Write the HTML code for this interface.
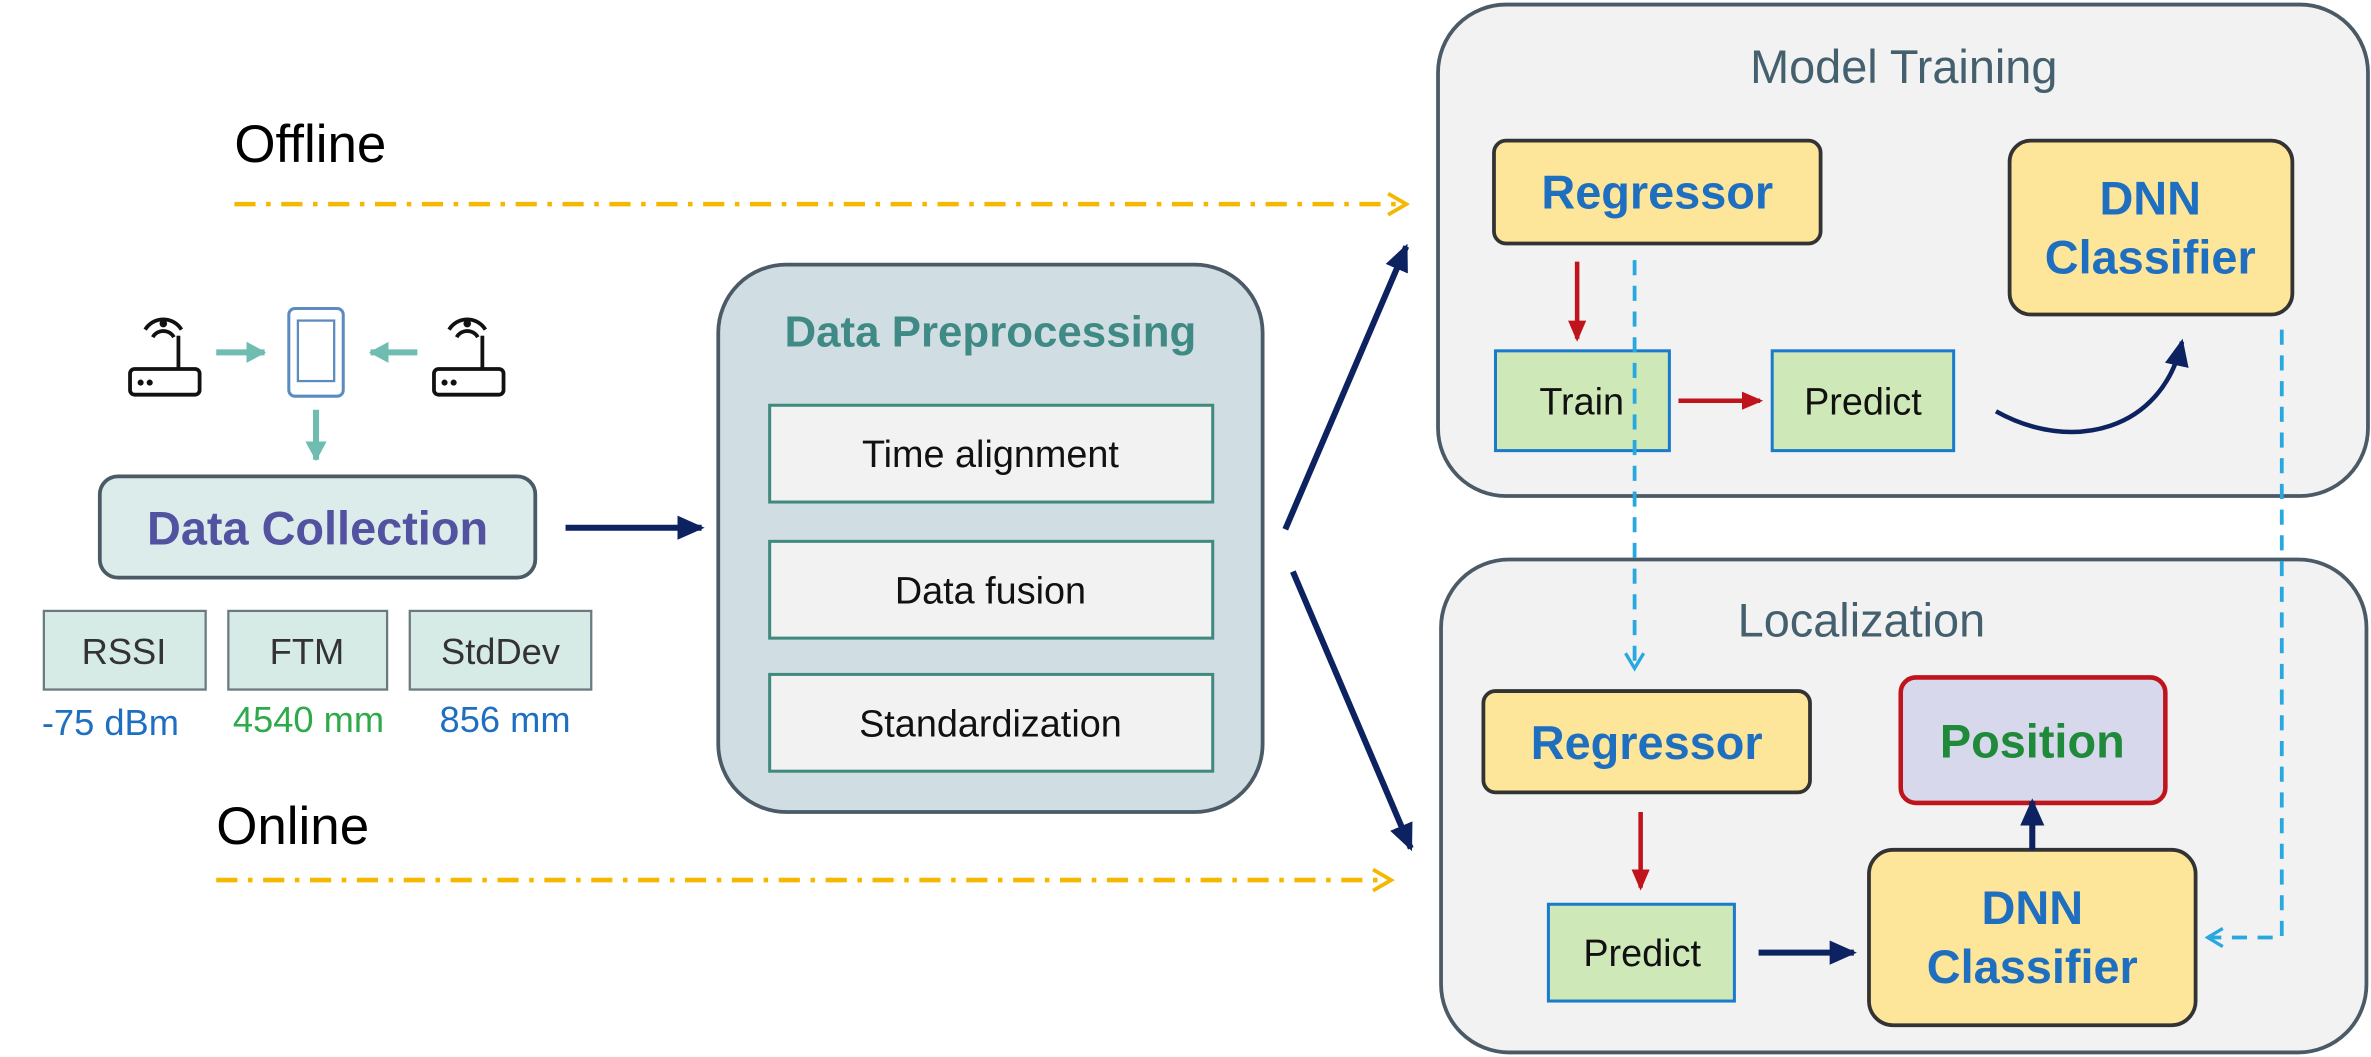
<!DOCTYPE html>
<html><head><meta charset="utf-8"><style>
html,body{margin:0;padding:0;background:#fff;}
svg{display:block;}
text{font-family:"Liberation Sans","DejaVu Sans",sans-serif;}
</style></head><body>
<svg width="2371" height="1057" viewBox="0 0 1568 699" xmlns="http://www.w3.org/2000/svg">
<defs>
<marker id="nav" markerWidth="20" markerHeight="18" refX="16" refY="8" orient="auto" markerUnits="userSpaceOnUse"><path d="M0,0 L18,8 L0,16 z" fill="#0d2260"/></marker>
<marker id="red" markerWidth="16" markerHeight="14" refX="12" refY="6" orient="auto" markerUnits="userSpaceOnUse"><path d="M0,0 L14,6 L0,12 z" fill="#c0141c"/></marker>
<marker id="teal" markerWidth="16" markerHeight="16" refX="12" refY="7" orient="auto" markerUnits="userSpaceOnUse"><path d="M0,0 L13,7 L0,14 z" fill="#6fbcb0"/></marker>
<marker id="lb" markerWidth="16" markerHeight="16" refX="12" refY="7" orient="auto" markerUnits="userSpaceOnUse"><path d="M2,1 L12,7 L2,13" fill="none" stroke="#29a8e0" stroke-width="2.2"/></marker>
<marker id="or" markerWidth="18" markerHeight="18" refX="14" refY="8" orient="auto" markerUnits="userSpaceOnUse"><path d="M2,1 L14,8 L2,15" fill="none" stroke="#f5b800" stroke-width="2.5"/></marker>
</defs>

<text x="155" y="107" font-size="35" fill="#000">Offline</text>
<line x1="155" y1="135" x2="930" y2="135" stroke="#f5b800" stroke-width="3" stroke-dasharray="14,7,3,7" marker-end="url(#or)"/>
<text x="143" y="558" font-size="35" fill="#000">Online</text>
<line x1="143" y1="582" x2="920" y2="582" stroke="#f5b800" stroke-width="3" stroke-dasharray="14,7,3,7" marker-end="url(#or)"/>

<g fill="none" stroke="#111" stroke-width="2.5">
<rect x="86" y="244" width="46" height="17" rx="3"/>
<line x1="118" y1="244" x2="118" y2="222"/>
<path d="M96,218 a14,14 0 0 1 24,0"/><path d="M101,223 a8,8 0 0 1 14,0"/>
<rect x="287" y="244" width="46" height="17" rx="3"/>
<line x1="319" y1="244" x2="319" y2="222"/>
<path d="M297,218 a14,14 0 0 1 24,0"/><path d="M302,223 a8,8 0 0 1 14,0"/>
</g>
<circle cx="93" cy="253" r="2" fill="#111"/><circle cx="99" cy="253" r="2" fill="#111"/>
<circle cx="294" cy="253" r="2" fill="#111"/><circle cx="300" cy="253" r="2" fill="#111"/>
<circle cx="108" cy="214" r="2.5" fill="#111"/><circle cx="309" cy="214" r="2.5" fill="#111"/>
<rect x="191" y="204" width="36" height="58" rx="4" fill="none" stroke="#5b8bbf" stroke-width="2"/>
<rect x="197" y="212" width="24" height="40" fill="none" stroke="#5b8bbf" stroke-width="1.5"/>
<line x1="143" y1="233" x2="175" y2="233" stroke="#6fbcb0" stroke-width="4" marker-end="url(#teal)"/>
<line x1="276" y1="233" x2="245" y2="233" stroke="#6fbcb0" stroke-width="4" marker-end="url(#teal)"/>
<line x1="209" y1="271" x2="209" y2="304" stroke="#6fbcb0" stroke-width="4" marker-end="url(#teal)"/>

<rect x="66" y="315" width="288" height="67" rx="12" fill="#dbecea" stroke="#4a5a66" stroke-width="2.5"/>
<text x="210" y="360" font-size="31" fill="#5352a0" text-anchor="middle" font-weight="bold">Data Collection</text>
<g fill="#d7ebe6" stroke="#6a7a80" stroke-width="1.5">
<rect x="29" y="404" width="107" height="52"/><rect x="151" y="404" width="105" height="52"/><rect x="271" y="404" width="120" height="52"/>
</g>
<g font-size="24" fill="#333" text-anchor="middle">
<text x="82" y="439">RSSI</text><text x="203" y="439">FTM</text><text x="331" y="439">StdDev</text>
</g>
<g font-size="24" text-anchor="middle">
<text x="73" y="486" fill="#1f6fc0">-75 dBm</text><text x="204" y="484" fill="#2eaa4a">4540 mm</text><text x="334" y="484" fill="#1f6fc0">856 mm</text>
</g>
<line x1="374" y1="349" x2="464" y2="349" stroke="#0d2260" stroke-width="4" marker-end="url(#nav)"/>

<rect x="475" y="175" width="360" height="362" rx="45" fill="#d0dde3" stroke="#4a5a66" stroke-width="2.5"/>
<text x="655" y="229" font-size="29" fill="#3f8a85" text-anchor="middle" font-weight="bold">Data Preprocessing</text>
<g fill="#f2f2f2" stroke="#3f8a7d" stroke-width="2">
<rect x="509" y="268" width="293" height="64"/><rect x="509" y="358" width="293" height="64"/><rect x="509" y="446" width="293" height="64"/>
</g>
<g font-size="25" fill="#111" text-anchor="middle">
<text x="655" y="309">Time alignment</text><text x="655" y="399">Data fusion</text><text x="655" y="487">Standardization</text>
</g>
<line x1="850" y1="350" x2="930" y2="163" stroke="#0d2260" stroke-width="4" marker-end="url(#nav)"/>
<line x1="855" y1="378" x2="933" y2="561" stroke="#0d2260" stroke-width="4" marker-end="url(#nav)"/>

<rect x="951" y="3" width="615" height="325" rx="45" fill="#f2f2f2" stroke="#4a5a66" stroke-width="2.5"/>
<text x="1259" y="55" font-size="31" fill="#44606e" text-anchor="middle">Model Training</text>
<rect x="988" y="93" width="216" height="68" rx="8" fill="#fde59a" stroke="#333" stroke-width="2.5"/>
<text x="1096" y="138" font-size="31" fill="#1f6fc0" text-anchor="middle" font-weight="bold">Regressor</text>
<rect x="1329" y="93" width="187" height="115" rx="14" fill="#fde59a" stroke="#333" stroke-width="2.5"/>
<text x="1422" y="142" font-size="31" fill="#1f6fc0" text-anchor="middle" font-weight="bold">DNN</text>
<text x="1422" y="181" font-size="31" fill="#1f6fc0" text-anchor="middle" font-weight="bold">Classifier</text>
<rect x="989" y="232" width="115" height="66" fill="#cfe8b8" stroke="#1a7acc" stroke-width="2"/>
<text x="1046" y="274" font-size="25" fill="#111" text-anchor="middle">Train</text>
<rect x="1172" y="232" width="120" height="66" fill="#cfe8b8" stroke="#1a7acc" stroke-width="2"/>
<text x="1232" y="274" font-size="25" fill="#111" text-anchor="middle">Predict</text>
<line x1="1043" y1="173" x2="1043" y2="224" stroke="#c0141c" stroke-width="3" marker-end="url(#red)"/>
<line x1="1110" y1="265" x2="1164" y2="265" stroke="#c0141c" stroke-width="3" marker-end="url(#red)"/>
<path d="M1320,272 C1370,300 1430,285 1443,226" fill="none" stroke="#0d2260" stroke-width="3" marker-end="url(#nav)"/>

<rect x="953" y="370" width="612" height="326" rx="45" fill="#f2f2f2" stroke="#4a5a66" stroke-width="2.5"/>
<text x="1231" y="421" font-size="31" fill="#44606e" text-anchor="middle">Localization</text>
<rect x="981" y="457" width="216" height="67" rx="8" fill="#fde59a" stroke="#333" stroke-width="2.5"/>
<text x="1089" y="502" font-size="31" fill="#1f6fc0" text-anchor="middle" font-weight="bold">Regressor</text>
<rect x="1257" y="448" width="175" height="83" rx="10" fill="#d8d8ec" stroke="#c0141c" stroke-width="3"/>
<text x="1344" y="501" font-size="31" fill="#1e8a3a" text-anchor="middle" font-weight="bold">Position</text>
<line x1="1085" y1="537" x2="1085" y2="587" stroke="#c0141c" stroke-width="3" marker-end="url(#red)"/>
<rect x="1024" y="598" width="123" height="64" fill="#cfe8b8" stroke="#1a7acc" stroke-width="2"/>
<text x="1086" y="639" font-size="25" fill="#111" text-anchor="middle">Predict</text>
<line x1="1163" y1="630" x2="1226" y2="630" stroke="#0d2260" stroke-width="4" marker-end="url(#nav)"/>
<rect x="1236" y="562" width="216" height="116" rx="16" fill="#fde59a" stroke="#333" stroke-width="2.5"/>
<text x="1344" y="611" font-size="31" fill="#1f6fc0" text-anchor="middle" font-weight="bold">DNN</text>
<text x="1344" y="650" font-size="31" fill="#1f6fc0" text-anchor="middle" font-weight="bold">Classifier</text>
<line x1="1344" y1="562" x2="1344" y2="530" stroke="#0d2260" stroke-width="4" marker-end="url(#nav)"/>

<line x1="1081" y1="172" x2="1081" y2="442" stroke="#29a8e0" stroke-width="2.5" stroke-dasharray="10,7" marker-end="url(#lb)"/>
<polyline points="1509,218 1509,620 1460,620" fill="none" stroke="#29a8e0" stroke-width="2.5" stroke-dasharray="10,7" marker-end="url(#lb)"/>
</svg>
</body></html>
